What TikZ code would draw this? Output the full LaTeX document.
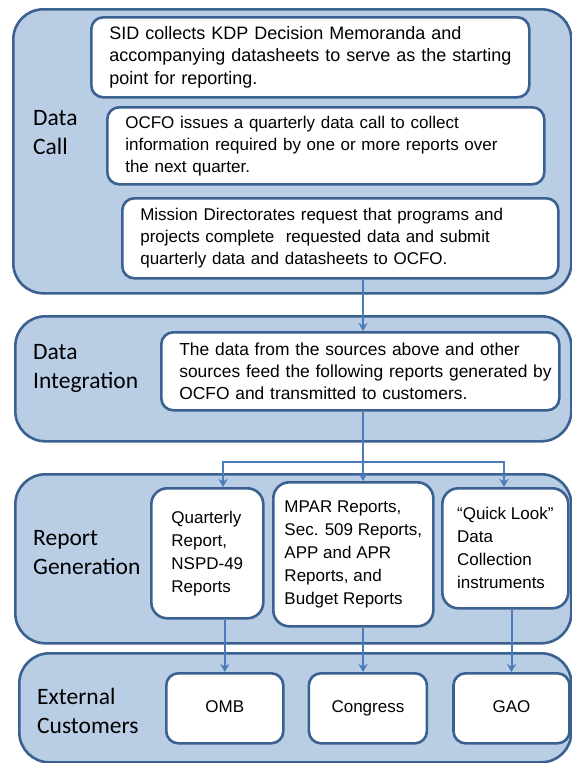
\documentclass[tikz,border=0pt]{standalone}
\usepackage{fontspec}
\setmainfont{Liberation Sans}
\newfontfamily\stagefont{Carlito}
\usetikzlibrary{positioning, arrows.meta, calc}
\definecolor{stagefill}{HTML}{B9CDE5}
\definecolor{stageline}{HTML}{3A6190}
\definecolor{flowline}{HTML}{4A7CB8}
\tikzset{
  >={Stealth[length=8pt, width=9pt, inset=2.5pt]},
  dc stage/.style={draw=stageline, fill=stagefill, rounded corners=30pt,
    line width=2.6pt, anchor=north west, inner sep=0pt},
  dc label/.style={font=\stagefont\fontsize{23.5}{29}\selectfont, align=left,
    anchor=west, inner sep=0pt},
  dc box/.style={draw=stageline, fill=white, rounded corners=12pt,
    line width=2.6pt, anchor=north west, align=left, inner sep=0pt,
    font=\fontsize{17}{22}\selectfont},
  dc report/.style={dc box, rounded corners=16pt, font=\fontsize{17}{23}\selectfont},
  dc cust/.style={dc box, minimum height=70pt, text height=12.5pt, text depth=3.5pt},
  dc flow/.style={draw=flowline, ->, line width=2pt},
}

\begin{document}
\begin{tikzpicture}[x=1pt, y=-1pt]
 \useasboundingbox (0,0) rectangle (571,763);
 % stages
 \node[dc stage, minimum width=558pt, minimum height=284pt] (call) at (12,8) {};
 \node[dc stage, minimum width=556pt, minimum height=125pt] (integ) at (14,315) {};
 \node[dc stage, minimum width=556pt, minimum height=169pt] (gen) at (14,473) {};
 \node[dc stage, minimum width=552pt, minimum height=109pt] (cust) at (18,652) {};
 \node[dc label] (call lbl) at (33,133) {Data\\Call};
 \node[dc label] (integ lbl) at (33,368) {Data\\Integration};
 \node[dc label] (gen lbl) at (33,553) {Report\\Generation};
 \node[dc label] (cust lbl) at (37,711) {External\\Customers};
 % data call
 \node[dc box, minimum width=438pt, minimum height=80pt, text width=402pt,
   font=\fontsize{18}{22.5}\selectfont] (sid) at (90,16)
   {SID collects KDP Decision Memoranda and\\\mbox{accompanying datasheets to serve as the starting}\\point for reporting.};
 \node[dc box, minimum width=437pt, minimum height=77pt, text width=401pt] (ocfo) at (106,106)
   {OCFO issues a quarterly data call to collect\\information required by one or more reports over\\the next quarter.};
 \node[dc box, minimum width=436pt, minimum height=80pt, text width=400pt] (md) at (121,197)
   {Mission Directorates request that programs and\\projects complete\ \ requested data and submit\\quarterly data and datasheets to OCFO.};
 % integration
 \node[dc box, minimum width=398pt, minimum height=78pt, text width=362pt,
   font=\fontsize{17.4}{22}\selectfont] (feed) at (160,331)
   {The data from the sources above and other\\\mbox{sources feed the following reports generated by}\\OCFO and transmitted to customers.};
 % reports
 \node[dc report, minimum width=112pt, minimum height=130pt] (qtr) at (150,487)
   {Quarterly\\Report,\\NSPD-49\\Reports};
 \node[dc report, minimum width=160pt, minimum height=144pt] (mpar) at (272,481)
   {MPAR Reports,\\Sec. 509 Reports,\\APP and APR\\Reports, and\\Budget Reports};
 \node[dc report, minimum width=126pt, minimum height=120pt] (look) at (441,487)
   {``Quick Look''\\Data\\Collection\\instruments};
 % customers
 \node[dc cust, minimum width=117pt] (omb) at (165,672) {OMB};
 \node[dc cust, minimum width=118pt, right=23pt of omb.north east, anchor=north west] (cong) {Congress};
 \node[dc cust, minimum width=116pt, right=24pt of cong.north east, anchor=north west] (gao) {GAO};
 % flows
 \coordinate (split) at (363,462);
 \coordinate (lft) at (223,462);
 \coordinate (rgt) at (504,462);
 \draw[dc flow] (md.south -| split) -- (feed.north -| split);
 \draw[dc flow] (feed.south -| split) -- (mpar.north -| split);
 \draw[dc flow] (split) -- (lft) -- (qtr.north -| lft);
 \draw[dc flow] (split) -- (rgt) -- (look.north -| rgt);
 \draw[dc flow] (qtr.south -| omb.north) -- (omb.north);
 \draw[dc flow] (mpar.south -| split) -- (cong.north -| split);
 \draw[dc flow] (look.south -| gao.north) -- (gao.north);
\end{tikzpicture}
\end{document}
